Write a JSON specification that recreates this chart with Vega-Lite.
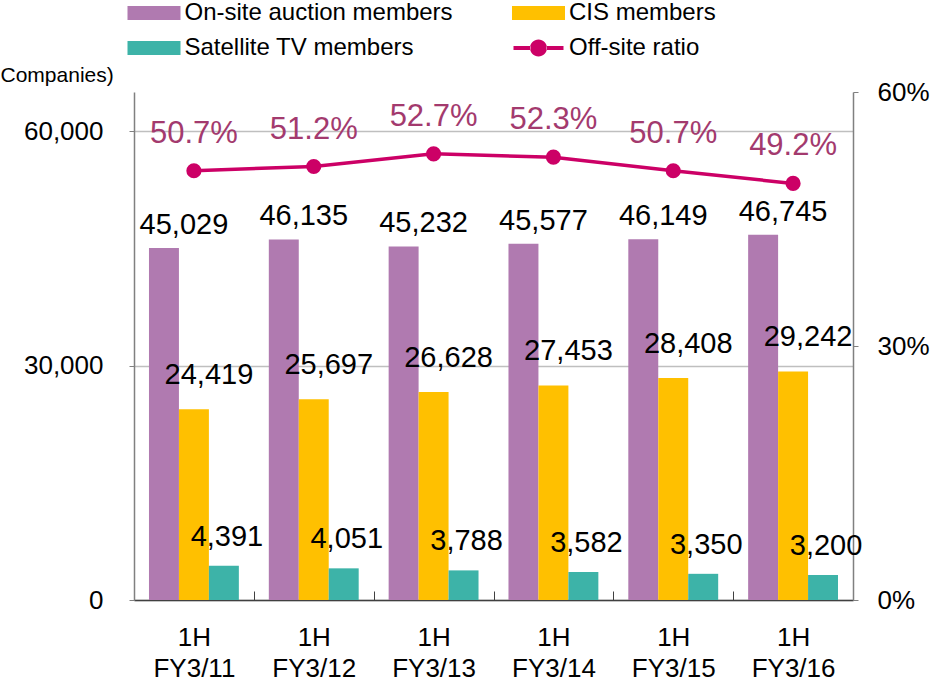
{
  "$schema": "https://vega.github.io/schema/vega-lite/v6.json",
  "width": 719,
  "height": 508,
  "autosize": {"type": "none"},
  "padding": {"left": 134, "top": 92, "right": 88, "bottom": 86},
  "background": "white",
  "config": {
    "view": {"stroke": null},
    "font": "Liberation Sans, Arial, sans-serif",
    "axis": {"labelFont": "Liberation Sans, Arial, sans-serif", "titleFont": "Liberation Sans, Arial, sans-serif", "labelColor": "black"},
    "legend": {"labelFont": "Liberation Sans, Arial, sans-serif"}
  },
  "datasets": {
    "bars": [
      {"period": "1H|FY3/11", "series": "On-site auction members", "value": 45029},
      {"period": "1H|FY3/12", "series": "On-site auction members", "value": 46135},
      {"period": "1H|FY3/13", "series": "On-site auction members", "value": 45232},
      {"period": "1H|FY3/14", "series": "On-site auction members", "value": 45577},
      {"period": "1H|FY3/15", "series": "On-site auction members", "value": 46149},
      {"period": "1H|FY3/16", "series": "On-site auction members", "value": 46745},
      {"period": "1H|FY3/11", "series": "CIS members", "value": 24419},
      {"period": "1H|FY3/12", "series": "CIS members", "value": 25697},
      {"period": "1H|FY3/13", "series": "CIS members", "value": 26628},
      {"period": "1H|FY3/14", "series": "CIS members", "value": 27453},
      {"period": "1H|FY3/15", "series": "CIS members", "value": 28408},
      {"period": "1H|FY3/16", "series": "CIS members", "value": 29242},
      {"period": "1H|FY3/11", "series": "Satellite TV members", "value": 4391},
      {"period": "1H|FY3/12", "series": "Satellite TV members", "value": 4051},
      {"period": "1H|FY3/13", "series": "Satellite TV members", "value": 3788},
      {"period": "1H|FY3/14", "series": "Satellite TV members", "value": 3582},
      {"period": "1H|FY3/15", "series": "Satellite TV members", "value": 3350},
      {"period": "1H|FY3/16", "series": "Satellite TV members", "value": 3200}
    ],
    "ratio": [
      {"period": "1H|FY3/11", "series": "Off-site ratio", "ratio": 0.507},
      {"period": "1H|FY3/12", "series": "Off-site ratio", "ratio": 0.512},
      {"period": "1H|FY3/13", "series": "Off-site ratio", "ratio": 0.527},
      {"period": "1H|FY3/14", "series": "Off-site ratio", "ratio": 0.523},
      {"period": "1H|FY3/15", "series": "Off-site ratio", "ratio": 0.507},
      {"period": "1H|FY3/16", "series": "Off-site ratio", "ratio": 0.492}
    ]
  },
  "encoding": {
    "x": {
      "field": "period", "type": "nominal", "sort": null,
      "scale": {"paddingInner": 0, "paddingOuter": 0},
      "axis": {
        "title": null, "labelAngle": 0,
        "labelExpr": "datum.label ? split(datum.label, '|') : ''",
        "labelFontSize": 26, "labelLineHeight": 31, "labelPadding": 33,
        "labelBaseline": "top",
        "tickBand": "extent", "tickSize": -9, "tickColor": "#404040", "tickWidth": 1,
        "domainColor": "#404040", "domainWidth": 1.5
      }
    }
  },
  "layer": [
    {
      "data": {"name": "bars"},
      "encoding": {
        "y": {
          "field": "value", "type": "quantitative",
          "scale": {"domain": [0, 65000], "nice": false},
          "axis": {
            "orient": "left", "values": [0, 30000, 60000], "format": ",d",
            "grid": true, "gridColor": "#BFBFBF", "gridWidth": 1.5,
            "tickSize": 5, "tickColor": "#808080", "domainColor": "#808080", "domainWidth": 1.5,
            "labelPadding": 26, "labelFontSize": 26,
            "title": "Companies)", "titleAngle": 0, "titleX": -134, "titleY": -17,
            "titleAlign": "left", "titleBaseline": "middle", "titleFontSize": 21,
            "titleFontWeight": "normal", "titleColor": "black"
          }
        }
      },
      "layer": [
        {
          "mark": {"type": "bar"},
          "encoding": {
            "xOffset": {
              "field": "series", "type": "nominal",
              "scale": {"domain": ["On-site auction members", "CIS members", "Satellite TV members"], "paddingInner": 0, "paddingOuter": 0.5}
            },
            "color": {
              "field": "series", "type": "nominal",
              "scale": {
                "domain": ["On-site auction members", "CIS members", "Satellite TV members", "Off-site ratio"],
                "range": ["#B07AB0", "#FFC000", "#3DB3A8", "#CC0066"]
              },
              "legend": {
                "orient": "none", "legendX": 8, "legendY": -91, "columns": 2, "direction": "horizontal", "title": null,
                "labelFontSize": 24, "labelColor": "black", "labelLimit": 400,
                "symbolSize": 400, "labelOffset": 18.5, "columnPadding": 58.5, "rowPadding": 11, "padding": 0,
                "encode": {
                  "symbols": {
                    "update": {
                      "shape": {"signal": "datum.value === 'Off-site ratio' ? 'M-2.5,-0.2H-0.8V0.2H-2.5Z M0.8,-0.2H2.5V0.2H0.8Z M-0.85,0A0.85,0.85 0 1,0 0.85,0A0.85,0.85 0 1,0 -0.85,0Z' : 'M-2.65,-0.7H2.65V0.7H-2.65Z'"},
                      "fill": {"scale": "color", "field": "value"},
                      "strokeWidth": {"value": 0},
                      "opacity": {"value": 1}
                    }
                  }
                }
              }
            }
          }
        },
        {
          "transform": [{"filter": "datum.series === 'On-site auction members'"}],
          "mark": {"type": "text", "fontSize": 29, "dx": -10, "dy": -23, "baseline": "middle", "align": "center", "color": "black"},
          "encoding": {"text": {"field": "value", "type": "quantitative", "format": ","}}
        },
        {
          "transform": [{"filter": "datum.series === 'CIS members'"}],
          "mark": {"type": "text", "fontSize": 29, "dx": 15, "dy": -34, "baseline": "middle", "align": "center", "color": "black"},
          "encoding": {"text": {"field": "value", "type": "quantitative", "format": ","}}
        },
        {
          "transform": [{"filter": "datum.series === 'Satellite TV members'"}],
          "mark": {"type": "text", "fontSize": 29, "dx": 33, "dy": -29, "baseline": "middle", "align": "center", "color": "black"},
          "encoding": {"text": {"field": "value", "type": "quantitative", "format": ","}}
        }
      ]
    },
    {
      "data": {"name": "ratio"},
      "encoding": {
        "y": {
          "field": "ratio", "type": "quantitative",
          "scale": {"domain": [0, 0.6], "nice": false},
          "axis": {
            "orient": "right", "values": [0, 0.3, 0.6], "format": ".0%",
            "grid": false, "tickSize": 5, "tickColor": "#808080", "domainColor": "#808080", "domainWidth": 1.5,
            "labelPadding": 19, "labelFontSize": 26, "title": null
          }
        }
      },
      "layer": [
        {
          "mark": {"type": "line", "strokeWidth": 3.5},
          "encoding": {
            "color": {
              "field": "series", "type": "nominal",
              "legend": {
                "orient": "none", "legendX": 8, "legendY": -91, "columns": 2, "direction": "horizontal", "title": null,
                "labelFontSize": 24, "labelColor": "black", "labelLimit": 400,
                "symbolSize": 400, "labelOffset": 18.5, "columnPadding": 58.5, "rowPadding": 11, "padding": 0,
                "encode": {
                  "symbols": {
                    "update": {
                      "shape": {"signal": "datum.value === 'Off-site ratio' ? 'M-2.5,-0.2H-0.8V0.2H-2.5Z M0.8,-0.2H2.5V0.2H0.8Z M-0.85,0A0.85,0.85 0 1,0 0.85,0A0.85,0.85 0 1,0 -0.85,0Z' : 'M-2.65,-0.7H2.65V0.7H-2.65Z'"},
                      "fill": {"scale": "color", "field": "value"},
                      "strokeWidth": {"value": 0},
                      "opacity": {"value": 1}
                    }
                  }
                }
              }
            }
          }
        },
        {
          "mark": {"type": "point", "filled": true, "shape": "circle", "size": 230, "opacity": 1},
          "encoding": {"color": {"field": "series", "type": "nominal"}}
        },
        {
          "mark": {"type": "text", "fontSize": 31, "dy": -37, "baseline": "middle", "align": "center", "color": "#A33A6E"},
          "encoding": {"text": {"field": "ratio", "type": "quantitative", "format": ".1%"}}
        }
      ]
    }
  ],
  "resolve": {"scale": {"y": "independent"}}
}
